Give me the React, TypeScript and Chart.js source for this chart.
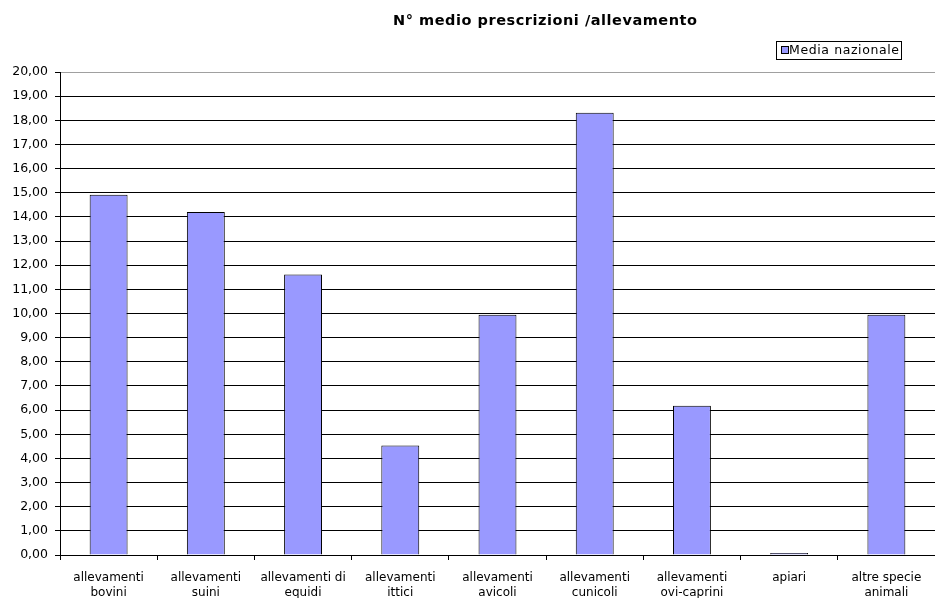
import React, { useEffect, useRef } from "react";
import { Chart, registerables } from "chart.js";

Chart.register(...registerables);

const categories: string[][] = [
  ["allevamenti", "bovini"],
  ["allevamenti", "suini"],
  ["allevamenti di", "equidi"],
  ["allevamenti", "ittici"],
  ["allevamenti", "avicoli"],
  ["allevamenti", "cunicoli"],
  ["allevamenti", "ovi-caprini"],
  ["apiari"],
  ["altre specie", "animali"],
];
const mediaNazionale: number[] = [14.92, 14.2, 11.62, 4.53, 9.95, 18.31, 6.18, 0.08, 9.95];
const seriesLabel = "Media nazionale";
const titleText = "N° medio prescrizioni /allevamento";
const yMin = 0;
const yMax = 20;
const yStep = 1;

const FONT = "'DejaVu Sans', sans-serif";

function fitText(ctx: any, text: string, x: number, y: number, width: number) {
  ctx.letterSpacing = "0px";
  const w = ctx.measureText(text).width;
  const sp = (width - w) / Math.max(1, text.length - 1);
  ctx.letterSpacing = `${sp}px`;
  ctx.fillText(text, x, y);
  ctx.letterSpacing = "0px";
}

const decorPlugin = {
  id: "decor",
  afterDraw(chart: any) {
    const ctx = chart.ctx as any;
    ctx.save();
    // title
    ctx.fillStyle = "#000";
    ctx.font = `bold 14.5px 'DejaVu Sans', sans-serif`;
    ctx.textAlign = "left";
    ctx.textBaseline = "middle";
    fitText(ctx, titleText, 393, 21, 304);
    // legend box
    const bx = 776.5, by = 41.5, bw = 125, bh = 18;
    ctx.fillStyle = "#fff";
    ctx.fillRect(bx, by, bw, bh);
    ctx.strokeStyle = "#000";
    ctx.lineWidth = 1;
    ctx.strokeRect(bx, by, bw, bh);
    ctx.fillStyle = "#9999FF";
    ctx.fillRect(782, 47, 6, 6);
    ctx.strokeStyle = "#000";
    ctx.strokeRect(781.5, 46.5, 7, 7);
    ctx.fillStyle = "#000";
    ctx.font = `12.5px ${FONT}`;
    ctx.textAlign = "left";
    ctx.textBaseline = "middle";
    fitText(ctx, seriesLabel, 789, 51, 110);
    ctx.restore();
  },
};

export default function App() {
  const ref = useRef<HTMLCanvasElement>(null);
  useEffect(() => {
    document.body.style.margin = "0";
    const chart = new Chart(ref.current!, {
      type: "bar",
      data: {
        labels: categories,
        datasets: [
          {
            label: seriesLabel,
            data: mediaNazionale,
            backgroundColor: "#9999FF",
            borderColor: "#000",
            borderWidth: 1,
            barPercentage: 0.39,
            categoryPercentage: 1,
          },
        ],
      },
      options: {
        animation: false,
        responsive: false,
        devicePixelRatio: 1,
        layout: { padding: { top: 72, right: 0, left: 0, bottom: 0 } },
        plugins: {
          legend: { display: false },
          title: { display: false },
          tooltip: { enabled: false },
        },
        scales: {
          x: {
            offset: true,
            grid: {
              display: true,
              drawOnChartArea: false,
              drawTicks: true,
              tickLength: 5,
              color: "#000",
              offset: true,
            },
            border: { display: true, color: "#000" },
            ticks: {
              color: "#000",
              font: { family: FONT, size: 12, lineHeight: 1.25 },
              padding: 10,
              maxRotation: 0,
              autoSkip: false,
            },
            afterFit: (s: any) => {
              s.height = 43;
            },
          },
          y: {
            min: yMin,
            max: yMax,
            grid: {
              color: (c: any) => (c.tick && c.tick.value === yMax ? "#a0a0a0" : "#000"),
              tickColor: "#000",
              tickLength: 5,
            },
            border: { display: true, color: "#000" },
            ticks: {
              stepSize: yStep,
              color: "#000",
              font: { family: FONT, size: 12.5 },
              padding: 7,
              callback: (v: any) => Number(v).toFixed(2).replace(".", ","),
            },
            afterFit: (s: any) => {
              s.width = 60;
            },
          },
        },
      },
      plugins: [decorPlugin],
    });
    return () => chart.destroy();
  }, []);
  return <canvas ref={ref} width={935} height={598} style={{ display: "block" }} />;
}
